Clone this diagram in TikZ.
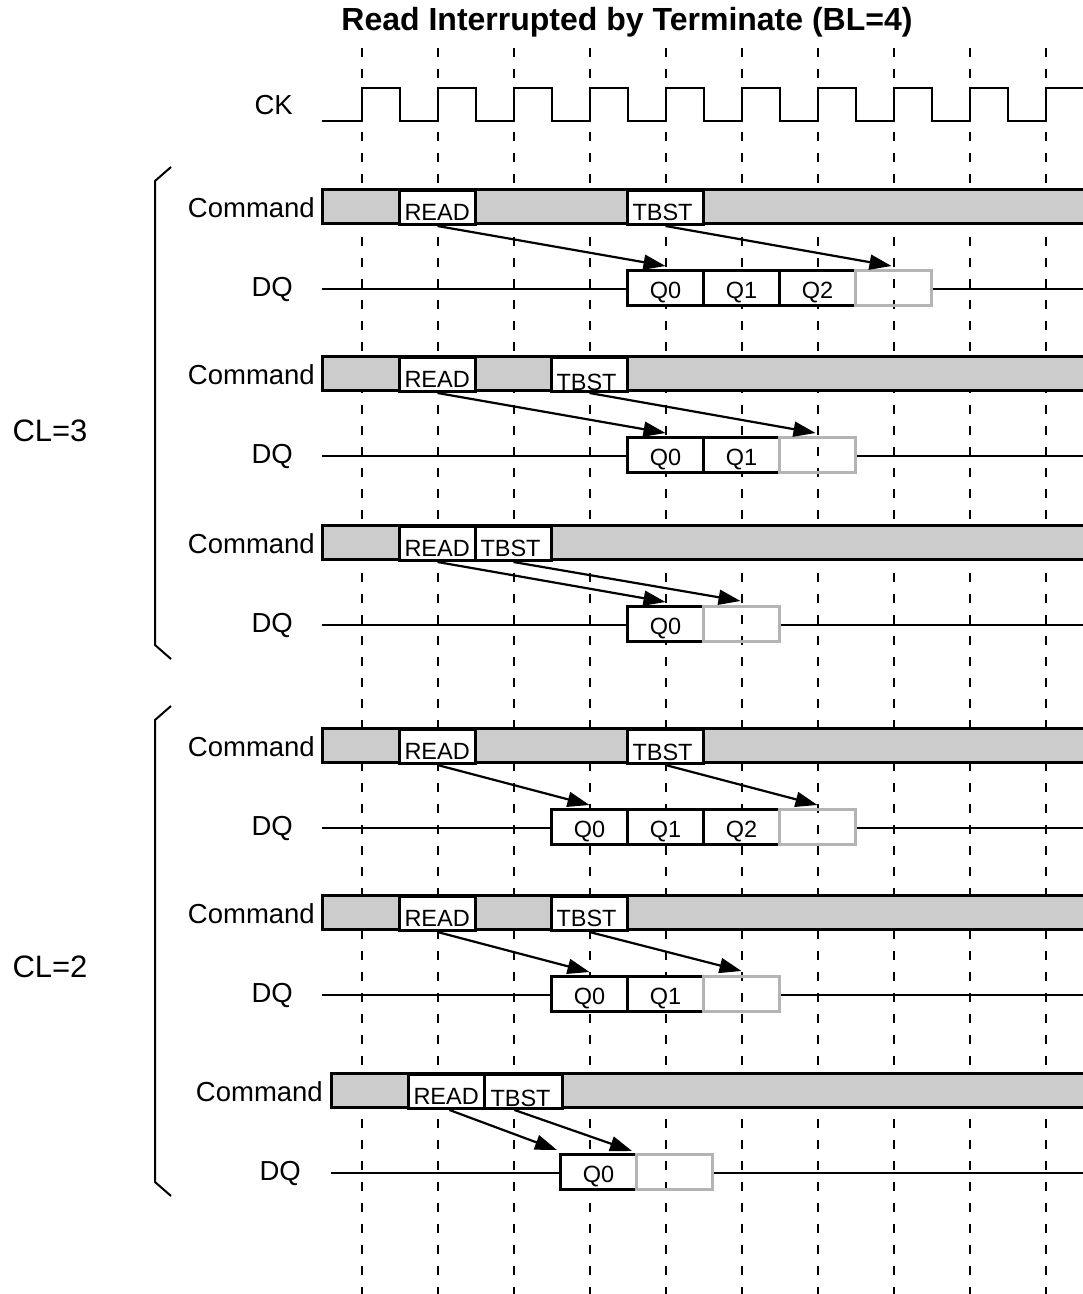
\documentclass[tikz,border=0pt]{standalone}
\usepackage{fontspec}
\setmainfont{Liberation Sans}
\usetikzlibrary{arrows.meta}
\definecolor{barg}{HTML}{CCCCCC}
\definecolor{boxg}{HTML}{B4B4B4}
\tikzset{
  cmdbar/.style={draw=black, line width=3pt, fill=barg},
  cmdcell/.style={draw=black, line width=3pt, fill=white, minimum width=76pt, minimum height=34pt,
    inner sep=0pt, text width=66pt, align=left, text height=26pt, text depth=0pt,
    font=\fontsize{23.5}{24}\selectfont, anchor=north west},
  qbox/.style={draw=black, line width=3pt, fill=white, minimum width=76pt, minimum height=35pt,
    inner sep=0pt, text height=21pt, text depth=0pt, font=\fontsize{23.5}{24}\selectfont, anchor=north west},
  gbox/.style={draw=boxg, line width=3pt, minimum width=76pt, minimum height=35pt, inner sep=0pt, anchor=north west},
  sig/.style={line width=2pt},
  arr/.style={line width=2.2pt, -{Triangle[length=22pt,width=15pt]}},
  gridline/.style={line width=2pt, dash pattern=on 9pt off 12pt},
  lab/.style={font=\fontsize{27.5}{28}\selectfont, anchor=east, inner sep=0pt},
  cl/.style={font=\fontsize{31}{32}\selectfont, inner sep=0pt},
  bracket/.style={line width=2pt},
}
\begin{document}
\begin{tikzpicture}[x=1pt,y=-1pt]
\useasboundingbox (0,0) rectangle (1083,1294);
\clip (0,0) rectangle (1083,1294);
\coordinate (rend) at (1095,0);
% grid
\foreach \k in {0,...,9} \draw[gridline] ({362+76*\k},48) -- ({362+76*\k},1300);
% title
\node[font=\bfseries\fontsize{32}{34}\selectfont] (title) at (627,22) {Read Interrupted by Terminate (BL=4)};
% clock
\node[lab] (ck) at (293,105) {CK};
\draw[sig] (322,121) \foreach \k in {0,...,9} { -- ({362+76*\k},121) -- ({362+76*\k},88) -- ({400+76*\k},88) -- ({400+76*\k},121) };
% brackets and CL labels
\draw[bracket] (171,167) -- (155,181) -- (155,645) -- (171,659);
\draw[bracket] (171,706) -- (155,720) -- (155,1182) -- (171,1196);
\node[cl] (cl3) at (50,431) {CL=3};
\node[cl] (cl2) at (50,967) {CL=2};

% ---------- Row A ----------
\draw[cmdbar] (322,189) rectangle (1095,223);
\node[lab] (cmdA) at (315,208) {Command};
\node[cmdcell] (rdA) at (398,189) {READ};
\node[cmdcell] (tbA) at (626,189) {TBST};
\node[lab] (dqA) at (293,289) {DQ};
\coordinate (lA) at (322,289);
\node[qbox] (q0A) at (626,269) {Q0};
\node[qbox] (q1A) at (702,269) {Q1};
\node[qbox] (q2A) at (778,269) {Q2};
\node[gbox] (gA) at (854,269) {};
\draw[sig] (lA) -- (lA -| q0A.west);
\draw[sig] (lA -| gA.east) -- (lA -| rend);
\draw[arr] (rdA.south) -- ([yshift=3pt]q0A.north);
\draw[arr] (tbA.south) -- ([shift={(-2pt,3pt)}]gA.north);

% ---------- Row B ----------
\draw[cmdbar] (322,356) rectangle (1095,390);
\node[lab] (cmdB) at (315,375) {Command};
\node[cmdcell] (rdB) at (398,356) {READ};
\node[cmdcell, text height=31pt] (tbB) at (550,356) {TBST};
\node[lab] (dqB) at (293,456) {DQ};
\coordinate (lB) at (322,456);
\node[qbox] (q0B) at (626,436) {Q0};
\node[qbox] (q1B) at (702,436) {Q1};
\node[gbox] (gB) at (778,436) {};
\draw[sig] (lB) -- (lB -| q0B.west);
\draw[sig] (lB -| gB.east) -- (lB -| rend);
\draw[arr] (rdB.south) -- ([yshift=3pt]q0B.north);
\draw[arr] (tbB.south) -- ([shift={(-2pt,3pt)}]gB.north);

% ---------- Row C ----------
\draw[cmdbar] (322,525) rectangle (1095,559);
\node[lab] (cmdC) at (315,544) {Command};
\node[cmdcell] (rdC) at (398,525) {READ};
\node[cmdcell] (tbC) at (474,525) {TBST};
\node[lab] (dqC) at (293,625) {DQ};
\coordinate (lC) at (322,625);
\node[qbox] (q0C) at (626,605) {Q0};
\node[gbox] (gC) at (702,605) {};
\draw[sig] (lC) -- (lC -| q0C.west);
\draw[sig] (lC -| gC.east) -- (lC -| rend);
\draw[arr] (rdC.south) -- ([yshift=3pt]q0C.north);
\draw[arr] (tbC.south) -- ([shift={(-1pt,4pt)}]gC.north);

% ---------- Row D ----------
\draw[cmdbar] (322,728) rectangle (1095,762);
\node[lab] (cmdD) at (315,747) {Command};
\node[cmdcell] (rdD) at (398,728) {READ};
\node[cmdcell, text height=28pt] (tbD) at (626,728) {TBST};
\node[lab] (dqD) at (293,828) {DQ};
\coordinate (lD) at (322,828);
\node[qbox] (q0D) at (550,808) {Q0};
\node[qbox] (q1D) at (626,808) {Q1};
\node[qbox] (q2D) at (702,808) {Q2};
\node[gbox] (gD) at (778,808) {};
\draw[sig] (lD) -- (lD -| q0D.west);
\draw[sig] (lD -| gD.east) -- (lD -| rend);
\draw[arr] (rdD.south) -- ([yshift=3pt]q0D.north);
\draw[arr] (tbD.south) -- ([yshift=3pt]gD.north);

% ---------- Row E ----------
\draw[cmdbar] (322,895) rectangle (1095,929);
\node[lab] (cmdE) at (315,914) {Command};
\node[cmdcell] (rdE) at (398,895) {READ};
\node[cmdcell] (tbE) at (550,895) {TBST};
\node[lab] (dqE) at (293,995) {DQ};
\coordinate (lE) at (322,995);
\node[qbox] (q0E) at (550,975) {Q0};
\node[qbox] (q1E) at (626,975) {Q1};
\node[gbox] (gE) at (702,975) {};
\draw[sig] (lE) -- (lE -| q0E.west);
\draw[sig] (lE -| gE.east) -- (lE -| rend);
\draw[arr] (rdE.south) -- ([yshift=3pt]q0E.north);
\draw[arr] (tbE.south) -- ([yshift=4pt]gE.north);

% ---------- Row F ----------
\draw[cmdbar] (331,1073) rectangle (1095,1107);
\node[lab] (cmdF) at (323,1092) {Command};
\node[cmdcell] (rdF) at (407,1073) {READ};
\node[cmdcell, minimum width=78pt, text height=29pt] (tbF) at (483,1073) {TBST};
\node[lab] (dqF) at (301,1173) {DQ};
\coordinate (lF) at (331,1173);
\node[qbox] (q0F) at (559,1153) {Q0};
\node[gbox] (gF) at (635,1153) {};
\draw[sig] (lF) -- (lF -| q0F.west);
\draw[sig] (lF -| gF.east) -- (lF -| rend);
\draw[arr] ([xshift=3pt]rdF.south) -- ([shift={(-2pt,3pt)}]q0F.north west);
\draw[arr] ([xshift=-9pt]tbF.south) -- ([shift={(-6pt,2pt)}]q0F.north east);
\end{tikzpicture}
\end{document}
